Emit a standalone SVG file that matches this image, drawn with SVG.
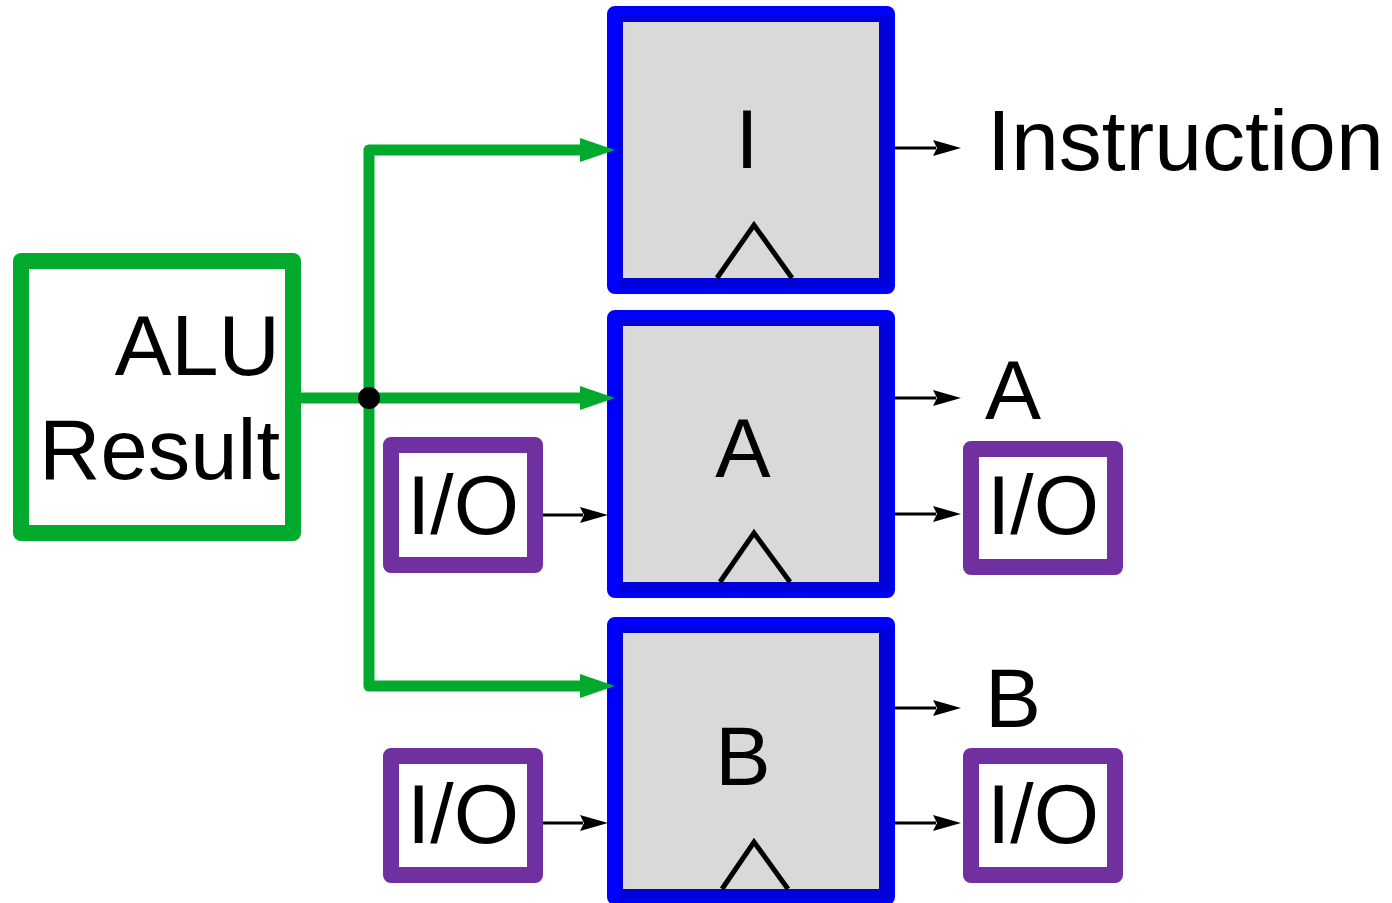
<svg xmlns="http://www.w3.org/2000/svg" xmlns:xlink="http://www.w3.org/1999/xlink" width="1392" height="903" viewBox="0 0 1392 903">
<style>
text{font-family:"Liberation Sans",Arial,sans-serif;fill:#000}
.big{font-size:84px}
.reg{font-size:83px;text-anchor:middle}
.io rect{fill:#fff;stroke:#7030A0;stroke-width:16;stroke-linejoin:round}
.io text{font-size:84px;text-anchor:middle}
.clk{fill:none;stroke:#000;stroke-width:5}
.g{fill:none;stroke:#00AA2D;stroke-width:11;stroke-linejoin:round}
.k{fill:none;stroke:#000;stroke-width:3}
</style>
<defs>
<marker id="ga" markerUnits="userSpaceOnUse" markerWidth="36" markerHeight="24" refX="1" refY="12" orient="auto">
<path d="M0,0 L35,12 L0,24 z" fill="#00AA2D"/>
</marker>
<marker id="ka" markerUnits="userSpaceOnUse" markerWidth="29" markerHeight="16" refX="3" refY="8" orient="auto">
<path d="M0,0 L28,8 L0,16 L4,8 z" fill="#000"/>
</marker>
<g id="regframe">
<rect x="8" y="8" width="272" height="272" fill="none" stroke="#0000FF" stroke-width="16" stroke-linejoin="round"/>
<rect x="20" y="17" width="258" height="258" fill="none" stroke="#0000D8" stroke-width="14"/>
<rect x="16" y="16" width="256" height="256" fill="#D9D9D9"/>
</g>
</defs>
<rect width="1392" height="903" fill="#fff"/>

<g id="alu">
<rect x="21" y="261" width="272" height="272" fill="#fff" stroke="#00AA2D" stroke-width="16" stroke-linejoin="round"/>
<text x="280" y="375" font-size="85" text-anchor="end">ALU</text>
<text x="280" y="479" font-size="85" text-anchor="end">Result</text>
</g>

<g id="regI" transform="translate(607,6)">
<use xlink:href="#regframe" href="#regframe"/>
<polyline class="clk" points="110,272 147,219 185,272"/>
<text class="reg" x="140" y="162">I</text>
</g>
<g id="regA" transform="translate(607,310)">
<use xlink:href="#regframe" href="#regframe"/>
<polyline class="clk" points="113,272 147,223 183,272"/>
<text class="reg" x="136" y="167">A</text>
</g>
<g id="regB" transform="translate(607,617)">
<use xlink:href="#regframe" href="#regframe"/>
<polyline class="clk" points="115,272 147,225 181,272"/>
<text class="reg" x="136" y="168">B</text>
</g>

<g id="ioInA" class="io"><rect x="391" y="445" width="144" height="120"/><text x="463" y="534">I/O</text></g>
<g id="ioInB" class="io"><rect x="391" y="756" width="144" height="119"/><text x="463" y="843">I/O</text></g>
<g id="ioOutA" class="io"><rect x="971" y="449" width="144" height="118"/><text x="1043" y="534">I/O</text></g>
<g id="ioOutB" class="io"><rect x="971" y="756" width="144" height="119"/><text x="1043" y="843">I/O</text></g>

<g id="lblInstruction"><text x="987" y="170" font-size="86">Instruction</text></g>
<g id="lblA"><text class="big" x="985" y="419">A</text></g>
<g id="lblB"><text class="big" x="985" y="727">B</text></g>

<g id="connectors">
<path class="g" d="M301,398 H581" marker-end="url(#ga)"/>
<path class="g" d="M369,398 V150 H581" marker-end="url(#ga)"/>
<path class="g" d="M369,398 V686 H581" marker-end="url(#ga)"/>
<circle cx="369" cy="398" r="11" fill="#000"/>
<path class="k" d="M895,148 H936" marker-end="url(#ka)"/>
<path class="k" d="M895,398 H936" marker-end="url(#ka)"/>
<path class="k" d="M895,514 H936" marker-end="url(#ka)"/>
<path class="k" d="M895,708 H936" marker-end="url(#ka)"/>
<path class="k" d="M895,823 H936" marker-end="url(#ka)"/>
<path class="k" d="M543,515 H583" marker-end="url(#ka)"/>
<path class="k" d="M543,823 H583" marker-end="url(#ka)"/>
</g>
</svg>
